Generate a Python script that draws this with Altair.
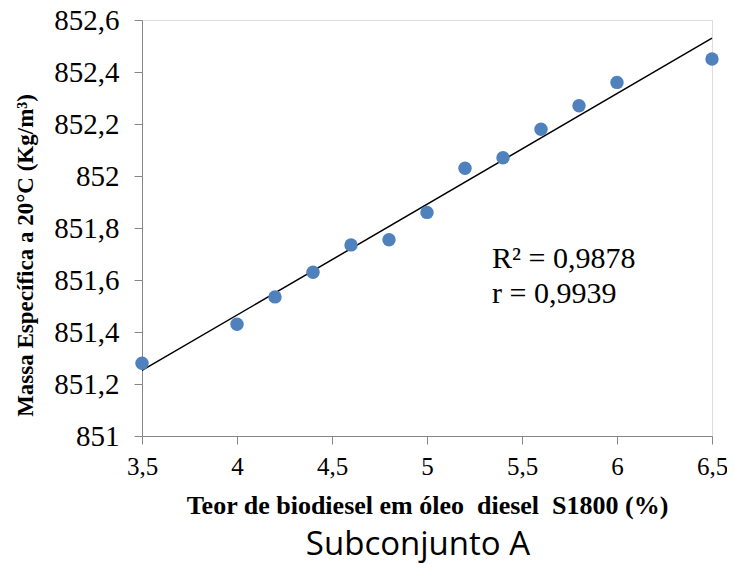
import altair as alt
import pandas as pd

teor = [3.5, 4.0, 4.2, 4.4, 4.6, 4.8, 5.0, 5.2, 5.4, 5.6, 5.8, 6.0, 6.5]
massa = [851.28, 851.43, 851.535, 851.63, 851.735, 851.755, 851.86,
         852.03, 852.07, 852.18, 852.27, 852.36, 852.45]
anotacoes = ["R² = 0,9878", "r = 0,9939"]
subtitulo = ["Subconjunto A"]
titulo_x = "Teor de biodiesel em óleo \u00a0diesel \u00a0S1800 (%)"
titulo_y = "Massa Específica a 20°C (Kg/m³)"

df = pd.DataFrame({"teor": teor, "massa": massa})

AXIS_GRAY = "#868686"
SERIF = "Liberation Serif, Times New Roman, serif"

W = 570

x_enc = alt.X(
    "teor:Q",
    scale=alt.Scale(domain=[3.5, 6.5], nice=False, zero=False),
    axis=alt.Axis(
        values=[3.5, 4, 4.5, 5, 5.5, 6, 6.5],
        labelExpr="replace(format(datum.value, '.2~g'), '.', ',')",
        grid=False,
        domainColor=AXIS_GRAY,
        tickColor=AXIS_GRAY,
        tickSize=8,
        labelFont=SERIF,
        labelFontSize=25,
        labelColor="black",
        labelPadding=10,
        labelFlush=False,
        title=titulo_x,
        titleFont=SERIF,
        titleFontSize=26,
        titleFontWeight="bold",
        titleColor="black",
        titleX=285,
        titleY=77,
        titleAlign="center",
        titleBaseline="alphabetic",
    ),
)
y_enc = alt.Y(
    "massa:Q",
    scale=alt.Scale(domain=[851, 852.6], nice=False, zero=False),
    axis=alt.Axis(
        values=[851, 851.2, 851.4, 851.6, 851.8, 852, 852.2, 852.4, 852.6],
        labelExpr="replace(format(datum.value, '.4~g'), '.', ',')",
        grid=False,
        domainColor=AXIS_GRAY,
        tickColor=AXIS_GRAY,
        tickSize=8,
        labelFont=SERIF,
        labelFontSize=29,
        labelColor="black",
        labelPadding=15,
        labelFlush=False,
        title=titulo_y,
        titleFont=SERIF,
        titleFontSize=23,
        titleFontWeight="bold",
        titleColor="black",
        titleX=-110,
        titleY=235,
        titleAngle=270,
        titleAlign="center",
        titleBaseline="alphabetic",
    ),
)

base = alt.Chart(df)

trend = base.transform_regression(
    "teor", "massa", extent=[3.5, 6.5]
).mark_line(color="black", strokeWidth=1.5).encode(x=x_enc, y=y_enc)

points = base.mark_circle(size=180, color="#4F81BD", opacity=1).encode(
    x="teor:Q", y="massa:Q"
)

ann1 = alt.Chart(pd.DataFrame({"txt": [anotacoes[0]]})).mark_text(
    font=SERIF, fontSize=30, align="left", baseline="alphabetic", color="black"
).encode(x=alt.value(350), y=alt.value(248), text="txt:N")
ann2 = alt.Chart(pd.DataFrame({"txt": [anotacoes[1]]})).mark_text(
    font=SERIF, fontSize=30, align="left", baseline="alphabetic", color="black"
).encode(x=alt.value(350), y=alt.value(283), text="txt:N")

sub = alt.Chart(pd.DataFrame({"txt": subtitulo})).mark_text(
    font="Open Sans", fontSize=33, align="center", baseline="alphabetic", color="black"
).encode(x=alt.value(276), y=alt.value(535), text="txt:N")

chart = alt.layer(trend, points, ann1, ann2, sub).properties(
    width=W,
    height=416,
    autosize=alt.AutoSizeParams(type="none"),
    padding={"left": 134, "top": 12, "right": 15, "bottom": 127},
).configure_view(stroke=None).configure(background="white")

chart.save("out.html", embed_options={"renderer": "svg", "actions": False})
